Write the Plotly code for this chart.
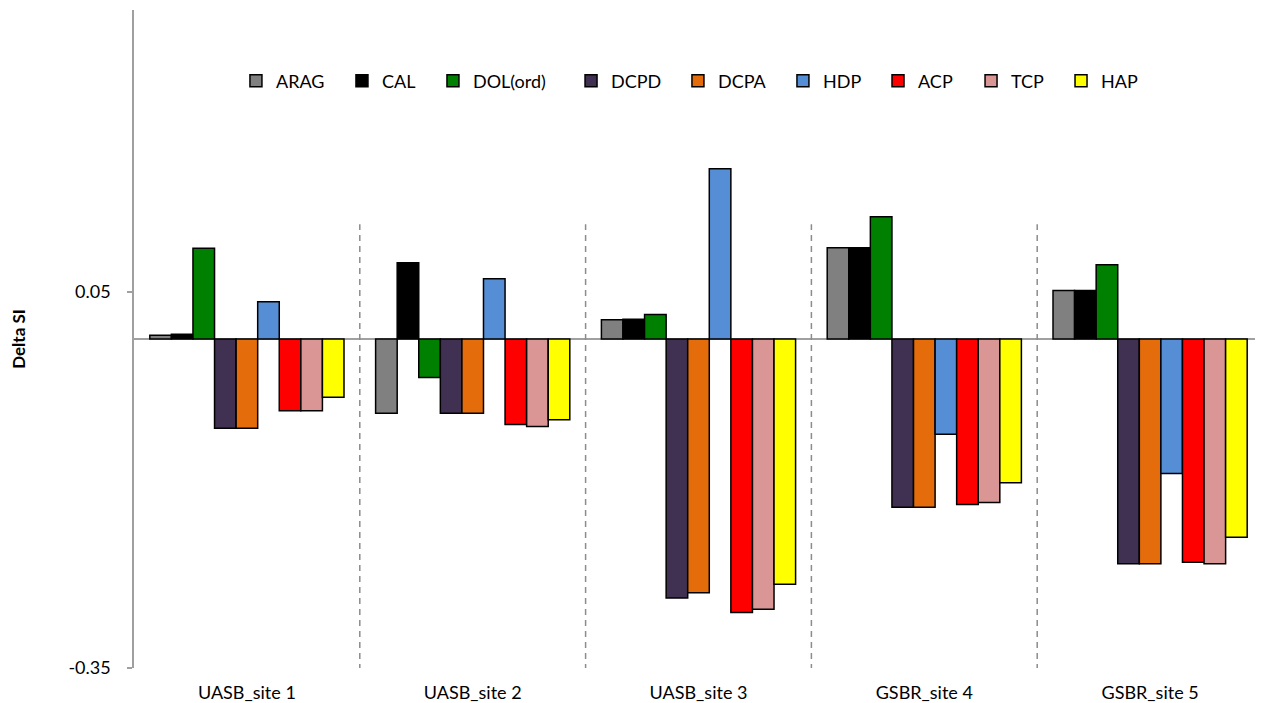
import plotly.graph_objects as go

categories = ["UASB_site 1", "UASB_site 2", "UASB_site 3", "GSBR_site 4", "GSBR_site 5"]
series_names = ["ARAG", "CAL", "DOL(ord)", "DCPD", "DCPA", "HDP", "ACP", "TCP", "HAP"]
colors = ["#808080", "#000000", "#008000", "#403152", "#E46C0A", "#558ED5", "#FF0000", "#D99694", "#FFFF00"]

ARAG = [0.004, -0.079, 0.0205, 0.097, 0.0515]
CAL = [0.005, 0.081, 0.021, 0.097, 0.0515]
DOL = [0.0965, -0.041, 0.026, 0.130, 0.079]
DCPD = [-0.095, -0.079, -0.2755, -0.179, -0.239]
DCPA = [-0.095, -0.079, -0.270, -0.179, -0.239]
HDP = [0.0397, 0.064, 0.181, -0.1014, -0.143]
ACP = [-0.0762, -0.091, -0.291, -0.176, -0.2376]
TCP = [-0.0762, -0.093, -0.2876, -0.174, -0.239]
HAP = [-0.062, -0.086, -0.261, -0.153, -0.211]

series_values = [ARAG, CAL, DOL, DCPD, DCPA, HDP, ACP, TCP, HAP]

y_ticks = [-0.35, 0.05]
y_tick_labels = ["-0.35", "0.05"]

# legend entry positions (paper x of each legend entry)
legend_x = [0.0903, 0.1842, 0.2648, 0.3871, 0.4818, 0.5748, 0.6590, 0.7414, 0.8211]

FONT = "Lato"

W, H = 1263, 703
ML, MR, MT, MB = 126, 8, 2, 43

fig = go.Figure()
for i, (name, vals, col) in enumerate(zip(series_names, series_values, colors)):
    lg = "legend" if i == 0 else f"legend{i + 1}"
    fig.add_trace(go.Bar(
        x=categories, y=vals, name=name, legend=lg,
        marker=dict(color=col, line=dict(color="black", width=1.5)),
    ))

# dashed separators between categories
for i in range(len(categories) - 1):
    fig.add_shape(type="line", xref="x", yref="y",
                  x0=i + 0.5, x1=i + 0.5, y0=-0.352, y1=0.122,
                  line=dict(color="#8c8c8c", width=1.5, dash="6px,5px"))

legends = {}
for i, lx in enumerate(legend_x):
    key = "legend" if i == 0 else f"legend{i + 1}"
    legends[key] = dict(orientation="h", x=lx, xanchor="left", y=0.892, yanchor="middle",
                        font=dict(family=FONT, size=18, color="black"),
                        bgcolor="rgba(0,0,0,0)", borderwidth=0)

fig.update_layout(
    width=W, height=H,
    margin=dict(l=ML, r=MR, t=MT, b=MB),
    paper_bgcolor="white", plot_bgcolor="white",
    barmode="group", bargap=0.14, bargroupgap=0,
    font=dict(family=FONT, size=18, color="black"),
    showlegend=True,
    xaxis=dict(showline=False, showgrid=False, ticks="", ticklabelstandoff=12,
               tickfont=dict(family=FONT, size=18)),
    yaxis=dict(range=[-0.35, 0.35], showgrid=False, showline=True, linecolor="#a0a0a0",
               linewidth=1.5, ticks="outside", ticklen=5, tickcolor="#a0a0a0", tickwidth=1.5,
               tickvals=y_ticks, ticktext=y_tick_labels, ticklabelstandoff=13,
               zeroline=True, zerolinecolor="#a0a0a0", zerolinewidth=1.5,
               tickfont=dict(family=FONT, size=18),
               title=dict(text="<b>Delta SI</b>", font=dict(family=FONT, size=17), standoff=40)),
    **legends,
)

fig.write_html("out.html")
